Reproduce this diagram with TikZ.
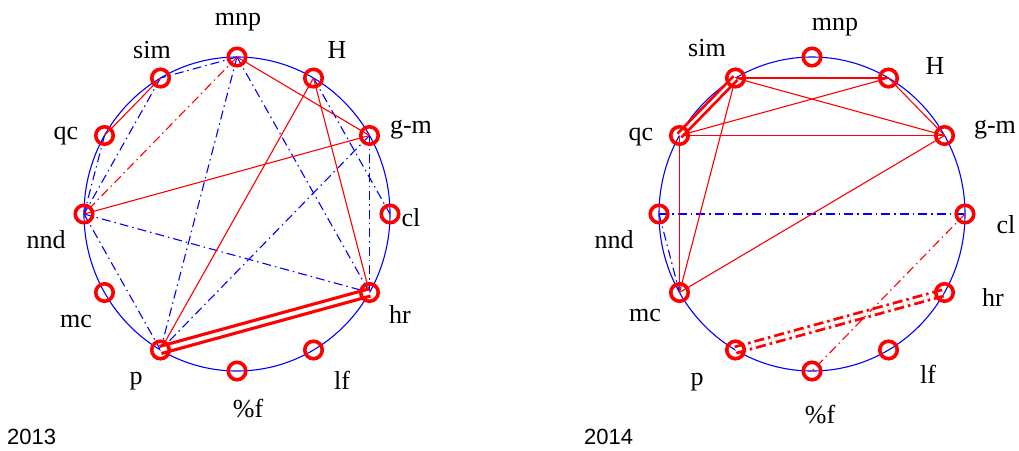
\documentclass[tikz,border=0pt]{standalone}
\usepackage{fontspec}
\setmainfont{Liberation Serif}
\newfontfamily\yearfont{Liberation Sans}
\begin{document}
\begin{tikzpicture}[x=1pt,y=-1pt]
\tikzset{
  outline/.style={draw=blue, line width=1.1pt},
  vtx/.style={circle, draw=red, line width=3.6pt, minimum size=17.5pt, inner sep=0pt},
  rs/.style={draw=red, line width=1.1pt},
  rdd/.style={draw=red, line width=1.1pt, dash pattern=on 9pt off 4pt on 1.5pt off 4pt},
  bdd/.style={draw=blue, line width=1.1pt, dash pattern=on 9pt off 4pt on 1.5pt off 4pt},
  dbl/.style={draw=red, line width=3.2pt, double=white, double distance=4pt},
  dblb/.style={draw=red, line width=2.8pt, double=white, double distance=2.5pt},
  dbldd/.style={draw=red, line width=2.8pt, double=white, double distance=3.5pt, dash pattern=on 10pt off 4pt on 2.5pt off 4pt},
  lab/.style={font=\fontsize{26}{26}\selectfont, inner sep=0pt},
  year/.style={font=\yearfont\fontsize{22}{22}\selectfont, inner sep=0pt, anchor=west}
}
\useasboundingbox (0,0) rectangle (1019,450);
% coordinates
\foreach \n/\a in {mnp/90, H/60, gm/30, cl/0, hr/-30, lf/-60, pf/-90, p/-120, mc/-150, nnd/180, qc/150, sim/120}{
  \coordinate (L\n) at ({237+153*cos(\a)},{214-157*sin(\a)});
  \coordinate (R\n) at ({812+153*cos(\a)},{214-157*sin(\a)});
}
% outlines
\draw[outline] (237,214) ellipse [x radius=153, y radius=157];
\draw[outline] (812,214) ellipse [x radius=153, y radius=157];
% ---- 2013 edges
\draw[bdd] (Lmnp) -- (Lsim);
\draw[bdd] (Lsim) -- (Lnnd);
\draw[bdd] (Lqc) -- (Lnnd);
\draw[bdd] (Lmnp) -- (Lp);
\draw[bdd] (Lmnp) -- (Lhr);
\draw[bdd] (LH) -- (Lcl);
\draw[bdd] (Lgm) -- (Lhr);
\draw[bdd] (Lgm) -- (Lp);
\draw[bdd] (Lnnd) -- (Lhr);
\draw[bdd] (Lnnd) -- (Lp);
\draw[rdd] (Lmnp) -- (Lnnd);
\draw[rs] (Lmnp) -- (Lgm);
\draw[rs] (Lsim) -- (Lqc);
\draw[rs] (LH) -- (Lp);
\draw[rs] (LH) -- (Lhr);
\draw[rs] (Lnnd) -- (Lgm);
\draw[dbl] (Lp) -- (Lhr);
% ---- 2014 edges
\draw[bdd] (Rnnd) -- (Rcl);
\draw[bdd] (Rnnd) -- (Rmc);
\draw[rdd] (Rcl) -- (Rpf);
\draw[rs] (Rsim) -- (RH);
\draw[rs] (Rsim) -- (Rgm);
\draw[rs] (Rqc) -- (RH);
\draw[rs] (Rqc) -- (Rgm);
\draw[rs] (RH) -- (Rgm);
\draw[rs] (Rqc) -- (Rmc);
\draw[rs] (Rsim) -- (Rmc);
\draw[rs] (Rgm) -- (Rmc);
\draw[dblb] (Rqc) -- (Rsim);
\draw[dbldd] (Rp) -- (Rhr);
% vertices
\foreach \n in {mnp,H,gm,cl,hr,lf,pf,p,mc,nnd,qc,sim}{
  \node[vtx] (L\n v) at (L\n) {};
  \node[vtx] (R\n v) at (R\n) {};
}
% labels 2013
\node[lab] (Lmnpl) at (238,22) {mnp};
\node[lab] (Lsiml) at (152,50) {sim};
\node[lab] (LHl) at (337,50) {H};
\node[lab] (Lgml) at (411,130) {g-m};
\node[lab] (Lqcl) at (66,136) {qc};
\node[lab] (Lnndl) at (46,240) {nnd};
\node[lab] (Lcll) at (411,218) {cl};
\node[lab] (Lhrl) at (400,314) {hr};
\node[lab] (Lmcl) at (76,321) {mc};
\node[lab] (Lpl) at (136,381) {p};
\node[lab] (Llfl) at (342,380) {lf};
\node[lab] (Lpfl) at (248,409) {\%f};
% labels 2014
\node[lab] (Rmnpl) at (835,27) {mnp};
\node[lab] (Rsiml) at (707,48) {sim};
\node[lab] (RHl) at (935,66) {H};
\node[lab] (Rgml) at (995,130) {g-m};
\node[lab] (Rqcl) at (641,137) {qc};
\node[lab] (Rnndl) at (614,240) {nnd};
\node[lab] (Rcll) at (1006,225) {cl};
\node[lab] (Rhrl) at (993,297) {hr};
\node[lab] (Rmcl) at (645,315) {mc};
\node[lab] (Rpl) at (697,382) {p};
\node[lab] (Rlfl) at (928,374) {lf};
\node[lab] (Rpfl) at (820,415) {\%f};
% years
\node[year] (y13) at (7,437) {2013};
\node[year] (y14) at (584,437) {2014};
\end{tikzpicture}
\end{document}
